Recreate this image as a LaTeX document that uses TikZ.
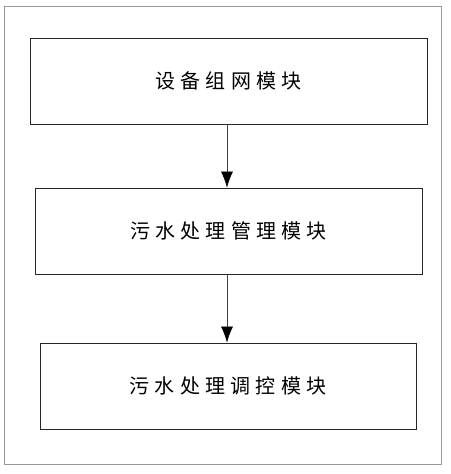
\documentclass[tikz,border=0pt]{standalone}
\usepackage{fontspec}
\newfontfamily\cjk[LetterSpace=26]{Noto Sans CJK SC}
\usepackage{tikz}
\usetikzlibrary{arrows.meta, positioning}

\begin{document}
\begin{tikzpicture}[x=1pt, y=-1pt,
		modul/.style={draw=black!85, line width=0.9pt, minimum height=86pt, inner sep=0pt,
			font=\cjk\fontsize{20}{24}\selectfont},
		>={Latex[length=16pt, width=12pt, color=black]}, %Pfeilspitzen
		pfeil/.style={->, draw=black!75, line width=0.6pt}]
		% Rahmen
		\useasboundingbox (0,0) rectangle (450,474);
		\draw[gray!80, line width=0.8pt] (4,6) rectangle (441,464);
		% Module zeichnen
		\node[modul, minimum width=397pt] (netz) at (228.5,81) {设备组网模块};
		\node[modul, minimum width=387pt] (verwaltung) at (228.5,231) {污水处理管理模块};
		\node[modul, minimum width=376pt] (regelung) at (228,386) {污水处理调控模块};
		% Pfeile
		\draw[pfeil] (netz.south -| 227,0) -- (verwaltung.north -| 227,0);
		\draw[pfeil] (verwaltung.south -| 227,0) -- (regelung.north -| 227,0);
	\end{tikzpicture}
\end{document}
